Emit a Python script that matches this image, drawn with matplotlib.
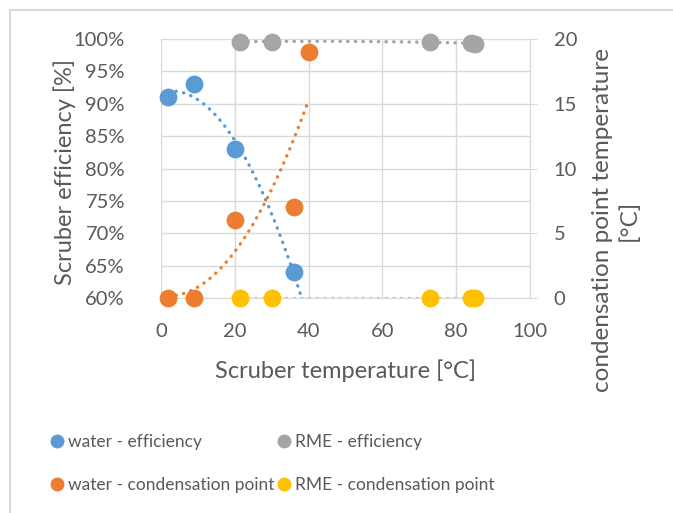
import numpy as np
import matplotlib.pyplot as plt
from matplotlib.lines import Line2D

plt.rcParams['font.family'] = ['Lato', 'DejaVu Sans']

# water series
water_x = [2, 9, 20, 36]
water_eff = [91, 93, 83, 64]
water_cond_x = [2, 9, 20, 36, 40]
water_cond = [0, 0, 6, 7, 19]

# RME series
rme_x = [21.5, 30, 73, 84, 85]
rme_eff = [99.6, 99.6, 99.5, 99.4, 99.3]
rme_cond = [0, 0, 0, 0, 0]

blue = '#5B9BD5'
orange = '#ED7D31'
grey = '#A5A5A5'
yellow = '#FFC000'
txt = '#595959'
gridc = '#D9D9D9'
dots = (0, (0.1, 2.2))

fig = plt.figure(figsize=(6.73, 5.13), dpi=100)
ax = fig.add_axes([161/673, 1-298/513, 369/673, 259/513])
ax2 = ax.twinx()

# trendlines (2nd order polynomial, like Excel)
pb = np.polyfit(water_x, water_eff, 2)
xb = np.linspace(min(water_x), 40, 400)
yb = np.polyval(pb, xb)
keep = yb >= 60
ax.plot(xb[keep], yb[keep], ls=dots, color=blue, lw=2.4, dash_capstyle='round')
po = np.polyfit(water_cond_x, water_cond, 2)
xo = np.linspace(min(water_cond_x), max(water_cond_x), 200)
ax2.plot(xo, np.polyval(po, xo), ls=dots, color=orange, lw=2.4, dash_capstyle='round')
pg = np.polyfit(rme_x, rme_eff, 2)
xg = np.linspace(min(rme_x), max(rme_x), 200)
ax.plot(xg, np.polyval(pg, xg), ls=dots, color=grey, lw=2.4, dash_capstyle='round')
ax2.plot([min(rme_x), max(rme_x)], [0, 0], ls=dots, color=yellow, lw=2.4,
         dash_capstyle='round')

ms = 140
ax.scatter(water_x, water_eff, s=ms, color=blue, zorder=5, clip_on=False)
ax.scatter(rme_x, rme_eff, s=ms, color=grey, zorder=5, clip_on=False)
ax2.scatter(water_cond_x, water_cond, s=ms, color=orange, zorder=5, clip_on=False)
ax2.scatter(rme_x, rme_cond, s=ms, color=yellow, zorder=5, clip_on=False)

ax.set_xlim(0, 100)
ax.set_ylim(60, 100)
ax2.set_ylim(0, 20)
ax.set_xticks(range(0, 101, 20))
ax.set_yticks(range(60, 101, 5))
ax.set_yticklabels([f'{v}%' for v in range(60, 101, 5)])
ax2.set_yticks(range(0, 21, 5))
ax.grid(True, color=gridc, lw=1)
ax.set_axisbelow(True)

for a in (ax, ax2):
    for s in a.spines.values():
        s.set_visible(False)
ax2.spines['right'].set_visible(True)
ax2.spines['right'].set_color(gridc)
ax.spines['bottom'].set_visible(True)
ax.spines['bottom'].set_color(gridc)

ax.tick_params(axis='x', length=0, labelsize=14.5, colors=txt, pad=18)
ax.tick_params(axis='y', length=0, labelsize=14.5, colors=txt, pad=26)
ax2.tick_params(axis='y', length=5, color=gridc, labelsize=14.5, labelcolor=txt, pad=12)

ax.set_xlabel('Scruber temperature [°C]', fontsize=17, color=txt)
ax.xaxis.set_label_coords(0.5, -61/259)
ax.set_ylabel('Scruber efficiency [%]', fontsize=17, color=txt)
ax.yaxis.set_label_coords(-85/369, (298-172)/259)
ax2.set_ylabel('condensation point temperature\n[°C]', fontsize=17.5, color=txt,
               linespacing=1.3)
ax2.yaxis.set_label_coords(431/369, (298-220)/259)

handles = [
    Line2D([], [], ls='', marker='o', ms=9, color=blue, label='water - efficiency'),
    Line2D([], [], ls='', marker='o', ms=9, color=orange, label='water - condensation point'),
    Line2D([], [], ls='', marker='o', ms=9, color=grey, label='RME - efficiency'),
    Line2D([], [], ls='', marker='o', ms=9, color=yellow, label='RME - condensation point'),
]
leg = fig.legend(handles=handles, ncol=2, loc='upper left',
                 bbox_to_anchor=(52/673, 1-434/513), frameon=False,
                 fontsize=12.5, handlelength=0.6, handletextpad=0.3,
                 columnspacing=0.3, labelspacing=1.55, borderaxespad=0,
                 borderpad=0)
for t in leg.get_texts():
    t.set_color(txt)

# chart area border (top and left visible)
fig.add_artist(Line2D([10/673, 1], [1-10/513, 1-10/513], color=gridc, lw=1.5))
fig.add_artist(Line2D([10/673, 10/673], [0, 1-10/513], color=gridc, lw=1.5))

fig.savefig('out.png', dpi=100)
